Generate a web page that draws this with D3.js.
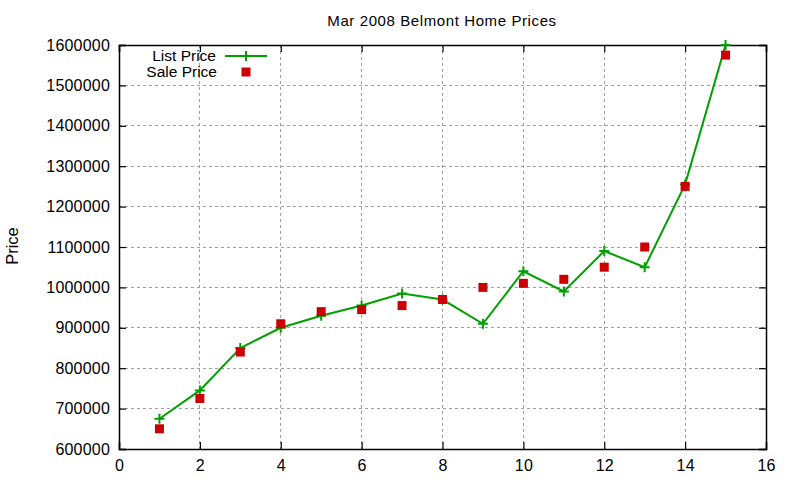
<!DOCTYPE html>
<html>
<head>
<meta charset="utf-8">
<script src="https://cdn.jsdelivr.net/npm/d3@7"></script>
<style>
  html, body { margin: 0; padding: 0; background: #fff; }
  svg { display: block; font-family: "Liberation Sans", Arial, sans-serif; }
</style>
</head>
<body>
<svg id="chart" width="800" height="480"></svg>
<script>
const houses = [1, 2, 3, 4, 5, 6, 7, 8, 9, 10, 11, 12, 13, 14, 15];
const listPrice = [675000, 745000, 850000, 900000, 930000, 955000, 985000, 970000, 910000, 1040000, 990000, 1090000, 1050000, 1255000, 1600000];
const salePrice = [650000, 725000, 840000, 910000, 940000, 945000, 955000, 970000, 1000000, 1010000, 1020000, 1050000, 1100000, 1250000, 1575000];
const xTicks = [0, 2, 4, 6, 8, 10, 12, 14, 16];
const yTicks = [600000, 700000, 800000, 900000, 1000000, 1100000, 1200000, 1300000, 1400000, 1500000, 1600000];
const chartTitle = "Mar 2008 Belmont Home Prices";
const yLabel = "Price";
const seriesNames = ["List Price", "Sale Price"];

const svg = d3.select("#chart");
const L = 119, R = 766, T = 45, B = 449;
const x = d3.scaleLinear().domain([0, 16]).range([L, R]);
const y = d3.scaleLinear().domain([600000, 1600000]).range([B, T]);

const green = "#00a000", red = "#cc0000";

// grid
const grid = svg.append("g");
grid.selectAll(".gx").data(xTicks.slice(1, -1)).join("line")
  .attr("x1", d => x(d)).attr("x2", d => x(d)).attr("y1", T).attr("y2", B)
  .attr("stroke", "#a0a0a0").attr("stroke-width", 1).attr("stroke-dasharray", "3,3").attr("shape-rendering", "crispEdges");
grid.selectAll(".gy").data(yTicks.slice(1, -1)).join("line")
  .attr("y1", d => y(d)).attr("y2", d => y(d)).attr("x1", L).attr("x2", R)
  .attr("stroke", "#a0a0a0").attr("stroke-width", 1).attr("stroke-dasharray", "3,3").attr("shape-rendering", "crispEdges");

// axes (ticks inward, mirrored)
const tickSize = 7;
const fmt = d3.format("d");
svg.append("g").attr("transform", `translate(0,${B})`)
  .call(d3.axisBottom(x).tickValues(xTicks).tickSize(-tickSize).tickPadding(11).tickFormat(fmt));
svg.append("g").attr("transform", `translate(0,${T})`)
  .call(d3.axisTop(x).tickValues(xTicks).tickSize(-tickSize).tickFormat(""));
svg.append("g").attr("transform", `translate(${L},0)`)
  .call(d3.axisLeft(y).tickValues(yTicks).tickSize(-tickSize).tickPadding(9).tickFormat(fmt));
svg.append("g").attr("transform", `translate(${R},0)`)
  .call(d3.axisRight(y).tickValues(yTicks).tickSize(-tickSize).tickFormat(""));
svg.selectAll(".domain").attr("stroke", "#000").attr("stroke-width", 1.5);
svg.selectAll(".tick line").attr("stroke", "#000").attr("stroke-width", 1.2);
svg.selectAll(".tick text").attr("font-family", "Liberation Sans, Arial, sans-serif")
  .attr("font-size", 16).attr("letter-spacing", "0.2px").attr("fill", "#000");

// title & label
svg.append("text").attr("x", 442).attr("y", 26).attr("text-anchor", "middle")
  .attr("font-size", 15).attr("letter-spacing", "0.6px").text(chartTitle);
svg.append("text").attr("transform", "translate(18,246) rotate(-90)").attr("text-anchor", "middle")
  .attr("font-size", 16.5).text(yLabel);

// list price line
const line = d3.line().x((d, i) => x(houses[i])).y(d => y(d));
svg.append("path").datum(listPrice).attr("d", line)
  .attr("fill", "none").attr("stroke", green).attr("stroke-width", 2);

const plus = 5;
const plusPath = (cx, cy) => `M${cx - plus},${cy}H${cx + plus}M${cx},${cy - plus}V${cy + plus}`;
svg.append("g").selectAll("path").data(listPrice).join("path")
  .attr("d", (d, i) => plusPath(x(houses[i]), y(d)))
  .attr("stroke", green).attr("stroke-width", 2).attr("fill", "none");

const sq = 9;
svg.append("g").selectAll("rect").data(salePrice).join("rect")
  .attr("x", (d, i) => x(houses[i]) - sq / 2).attr("y", d => y(d) - sq / 2)
  .attr("width", sq).attr("height", sq).attr("fill", red);

// legend
const lg = svg.append("g");
lg.append("text").attr("x", 216).attr("y", 61).attr("text-anchor", "end").attr("font-size", 15.5).text(seriesNames[0]);
lg.append("text").attr("x", 217).attr("y", 77).attr("text-anchor", "end").attr("font-size", 15.5).text(seriesNames[1]);
lg.append("line").attr("x1", 225).attr("x2", 267).attr("y1", 56).attr("y2", 56).attr("stroke", green).attr("stroke-width", 2);
lg.append("path").attr("d", plusPath(246, 56)).attr("stroke", green).attr("stroke-width", 2);
lg.append("rect").attr("x", 246 - sq / 2).attr("y", 72 - sq / 2).attr("width", sq).attr("height", sq).attr("fill", red);
</script>
</body>
</html>
